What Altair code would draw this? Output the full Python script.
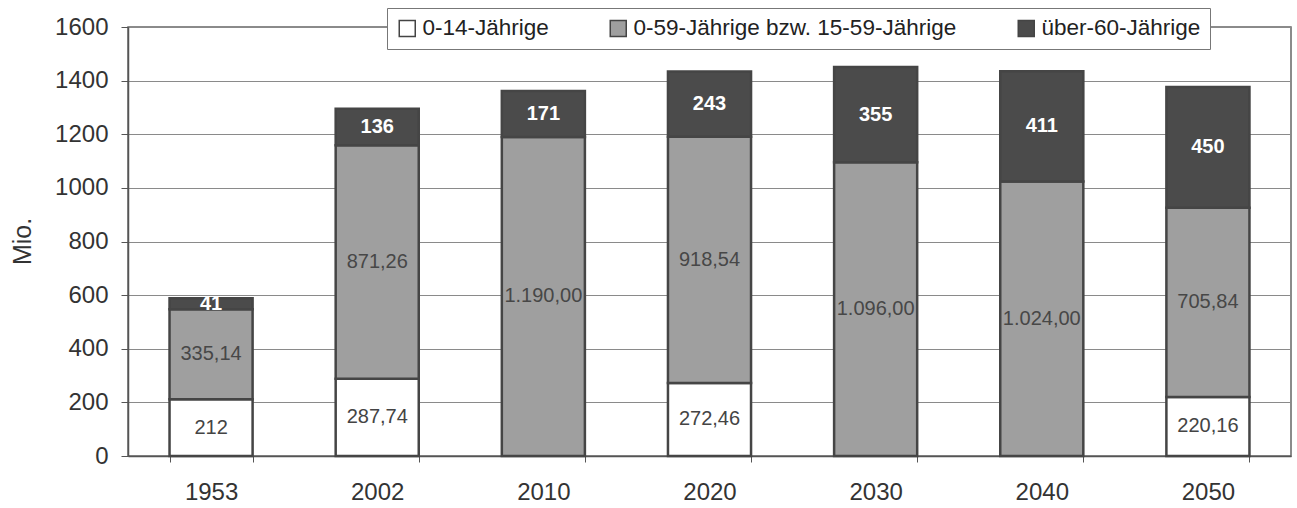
import altair as alt
import pandas as pd

# ---- data ----
years = ["1953", "2002", "2010", "2020", "2030", "2040", "2050"]
series = ["0-14-Jährige", "0-59-Jährige bzw. 15-59-Jährige", "über-60-Jährige"]
young = [212, 287.74, None, 272.46, None, None, 220.16]
middle = [335.14, 871.26, 1190.00, 918.54, 1096.00, 1024.00, 705.84]
old = [41, 136, 171, 243, 355, 411, 450]
y_ticks = [0, 200, 400, 600, 800, 1000, 1200, 1400, 1600]

fill_colors = ["#ffffff", "#9f9f9f", "#4b4b4b"]
text_colors = ["#444444", "#474747", "#ffffff"]
text_weights = ["normal", "normal", "bold"]
FONT = "Liberation Sans, Arial, Helvetica, sans-serif"


def de_fmt(v, dec):
    s = f"{v:,.{dec}f}"
    return s.replace(",", "#").replace(".", ",").replace("#", ".")


def label_for(k, v):
    if k == 1:
        return de_fmt(v, 2)
    if k == 0:
        return de_fmt(v, 0 if float(v).is_integer() else 2)
    return de_fmt(v, 0)


rows = []
for i, yr in enumerate(years):
    for k, vals in enumerate([young, middle, old]):
        v = vals[i]
        if v is None:
            continue
        rows.append({"year": yr, "series": series[k], "order": k,
                     "value": v, "label": label_for(k, v)})
df = pd.DataFrame(rows)

base = alt.Chart(df).transform_stack(
    stack="value", groupby=["year"],
    sort=[alt.SortField("order", order="ascending")],
    as_=["v0", "v1"],
).transform_calculate(mid="(datum.v0 + datum.v1) / 2")

x_enc = alt.X(
    "year:N", sort=years,
    scale=alt.Scale(paddingInner=0.5, paddingOuter=0.25),
    axis=alt.Axis(title=None, labelAngle=0, tickBand="extent", tickSize=6,
                  tickColor="#555555", labelPadding=18, labelFontSize=24,
                  labelColor="#333333", domainColor="#555555", domainWidth=1.5,
                  grid=False, labelFont=FONT),
)

y_axis = alt.Axis(
    title="Mio.", values=y_ticks, format="d", grid=True, gridColor="#8a8a8a",
    gridWidth=1, tickSize=7, tickColor="#555555", labelPadding=13,
    labelFontSize=24, labelColor="#333333", domainColor="#555555",
    domainWidth=1.5, titleFontSize=25, titleFontWeight="normal",
    titleColor="#333333", titleX=-106, titleY=214, titleAngle=270,
    titleAlign="center", titleBaseline="middle", labelFont=FONT, titleFont=FONT,
)
y_scale = alt.Scale(domain=[0, 1600], nice=False)

bars = base.mark_bar(stroke="#454545", strokeWidth=2.5).encode(
    x=x_enc,
    y=alt.Y("v0:Q", scale=y_scale, axis=y_axis),
    y2="v1:Q",
    color=alt.Color(
        "series:N",
        scale=alt.Scale(domain=series, range=fill_colors),
        legend=alt.Legend(
            title=None, orient="none", legendX=259, legendY=-19,
            direction="horizontal", columnPadding=58, labelFontSize=22.5,
            labelColor="#222222", labelFont=FONT, labelLimit=500,
            symbolType="square", symbolSize=256, symbolStrokeColor="#444444",
            symbolStrokeWidth=1.5, fillColor="white", strokeColor="#777777",
            padding=9, labelOffset=4,
        ),
    ),
)

layers = [bars]
for k in range(3):
    layers.append(
        base.transform_filter(alt.datum.order == k).mark_text(
            fontSize=20, font=FONT, color=text_colors[k],
            fontWeight=text_weights[k], baseline="middle", align="center",
        ).encode(
            x=x_enc,
            y=alt.Y("mid:Q", scale=y_scale, axis=y_axis),
            text="label:N",
        )
    )

chart = alt.layer(*layers).properties(
    width=1163, height=429,
    autosize=alt.AutoSizeParams(type="none"),
    padding={"left": 128, "top": 27, "right": 6, "bottom": 52},
    background="white",
).configure_view(stroke="#666666", strokeWidth=1.5)

chart.save("out.html", embed_options={"renderer": "svg", "actions": False})
